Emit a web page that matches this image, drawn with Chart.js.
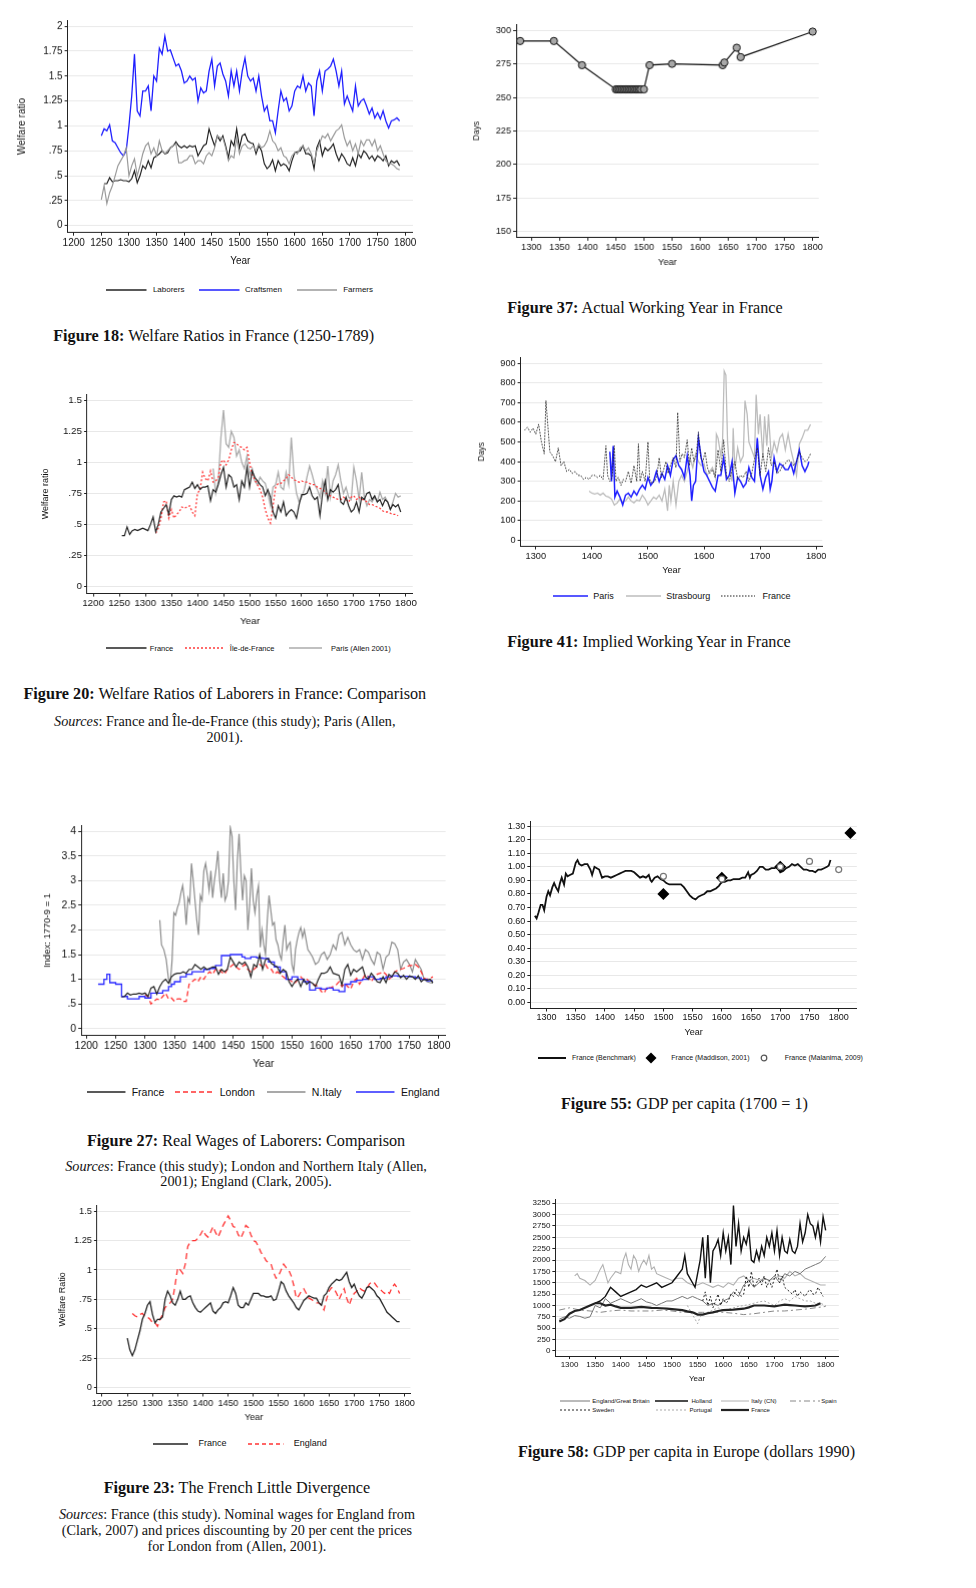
<!DOCTYPE html>
<html>
<head>
<meta charset="utf-8">
<script src="https://cdn.jsdelivr.net/npm/chart.js@4.4.1/dist/chart.umd.min.js"></script>
<style>
html, body { margin: 0; padding: 0; background: #fff; }
body { width: 976px; height: 1588px; position: relative; overflow: hidden; }
.box { position: absolute; }
.cap { position: absolute; text-align: center; font-family: "Liberation Serif", serif; color: #111; white-space: nowrap; }
.leg { position: absolute; font-family: "Liberation Sans", Arial, sans-serif; color: #111; white-space: nowrap; }
</style>
</head>
<body>
<script>
// ---- shared years and ticks ----
const yrs5 = [1250,1255,1260,1265,1270,1275,1280,1285,1290,1295,
  1300,1305,1310,1315,1320,1325,1330,1335,1340,1345,
  1350,1355,1360,1365,1370,1375,1380,1385,1390,1395,
  1400,1405,1410,1415,1420,1425,1430,1435,1440,1445,
  1450,1455,1460,1465,1470,1475,1480,1485,1490,1495,
  1500,1505,1510,1515,1520,1525,1530,1535,1540,1545,
  1550,1555,1560,1565,1570,1575,1580,1585,1590,1595,
  1600,1605,1610,1615,1620,1625,1630,1635,1640,1645,
  1650,1655,1660,1665,1670,1675,1680,1685,1690,1695,
  1700,1705,1710,1715,1720,1725,1730,1735,1740,1745,
  1750,1755,1760,1765,1770,1775,1780,1785,1790];
const yrs10 = [1280,1290,1300,1310,1320,1330,1340,1350,1360,1370,1380,1390,1400,1410,1420,1430,1440,1450,1460,1470,
  1480,1490,1500,1510,1520,1530,1540,1550,1560,1570,1580,1590,1600,1610,1620,1630,1640,1650,1660,1670,
  1680,1690,1700,1710,1720,1730,1740,1750,1760,1770,1780,1790,1800];

const xt1200 = [1200,1250,1300,1350,1400,1450,1500,1550,1600,1650,1700,1750,1800];
const xt1300 = [1300,1350,1400,1450,1500,1550,1600,1650,1700,1750,1800];
const xt100 = [1300,1400,1500,1600,1700,1800];

// ---- Figure 18: welfare ratios ----
const f18YTicks = [0,0.25,0.5,0.75,1,1.25,1.5,1.75,2];
const f18YLabels = ['0','.25','.5','.75','1','1.25','1.5','1.75','2'];
const f18Craft = [0.90,0.97,0.95,1.01,0.85,0.83,0.78,0.73,0.70,0.75,
  1.00,1.30,1.72,1.15,1.10,1.35,1.35,1.40,1.15,1.50,
  1.45,1.78,1.72,1.90,1.75,1.76,1.68,1.60,1.62,1.55,
  1.43,1.45,1.50,1.46,1.48,1.25,1.38,1.33,1.35,1.55,
  1.67,1.40,1.60,1.63,1.52,1.45,1.30,1.55,1.40,1.55,
  1.35,1.55,1.68,1.50,1.45,1.48,1.35,1.50,1.30,1.15,
  1.20,1.05,1.05,0.93,1.15,1.35,1.25,1.28,1.15,1.20,
  1.35,1.40,1.38,1.50,1.35,1.43,1.40,1.10,1.45,1.55,
  1.35,1.55,1.57,1.60,1.67,1.55,1.40,1.55,1.22,1.30,
  1.22,1.15,1.40,1.20,1.25,1.27,1.20,1.12,1.18,1.08,
  1.13,1.07,1.15,1.05,0.98,1.05,1.06,1.08,1.05];
const f18Labor = [null,0.42,0.42,0.48,0.44,0.45,0.45,0.46,0.45,0.45,
  0.44,0.47,0.55,0.43,0.50,0.60,0.57,0.65,0.58,0.68,
  0.70,0.72,0.75,0.72,0.73,0.78,0.80,0.84,0.80,0.78,
  0.80,0.78,0.80,0.79,0.80,0.70,0.75,0.80,0.82,0.97,
  0.88,0.80,0.90,0.85,0.90,0.80,0.68,0.85,0.80,0.97,
  0.78,0.90,0.92,0.85,0.83,0.82,0.72,0.80,0.75,0.62,
  0.57,0.60,0.66,0.55,0.65,0.60,0.62,0.60,0.55,0.65,
  0.73,0.74,0.75,0.80,0.72,0.72,0.70,0.57,0.78,0.85,
  0.70,0.78,0.75,0.78,0.82,0.72,0.65,0.72,0.68,0.62,
  0.60,0.68,0.60,0.72,0.68,0.75,0.72,0.67,0.70,0.65,
  0.70,0.68,0.65,0.70,0.60,0.65,0.63,0.65,0.60];
const f18Farm = [0.26,0.40,0.22,0.33,0.40,0.50,0.60,0.65,0.70,0.78,
  0.50,0.60,0.67,0.50,0.60,0.72,0.80,0.83,0.72,0.78,
  0.70,0.85,0.75,0.72,0.75,0.78,0.80,0.82,0.63,0.63,
  0.65,0.66,0.70,0.70,0.62,0.65,0.65,0.62,0.70,0.73,
  0.70,0.78,0.90,0.88,0.88,0.78,0.65,0.70,0.68,0.88,
  0.72,0.80,0.82,0.78,0.77,0.80,0.75,0.82,0.78,0.80,
  0.85,0.95,0.85,0.82,0.75,0.78,0.70,0.68,0.62,0.70,
  0.73,0.72,0.78,0.80,0.75,0.78,0.72,0.63,0.75,0.82,
  0.90,0.88,0.92,0.85,0.90,0.95,0.97,1.01,0.88,0.80,
  0.85,0.75,0.82,0.72,0.85,0.80,0.86,0.86,0.80,0.86,
  0.75,0.80,0.72,0.65,0.62,0.62,0.60,0.57,0.56];

// ---- Figure 37: actual working year ----
const f37YTicks = [150,175,200,225,250,275,300];
const f37YLabels = ['150','175','200','225','250','275','300'];
const f37Years = [1280,1340,1390,1450,1453,1456,1459,1462,1465,1468,1471,1474,1477,1480,1483,1486,1489,1492,1495,1500,1510,1550,1640,1643,1665,1672,1800];
const f37Days = [292,292,274,256,256,256,256,256,256,256,256,256,256,256,256,256,256,256,256,256,274,275,274,276,287,280,299];

// ---- Figure 20: laborers comparison ----
const f20YTicks = [0,0.25,0.5,0.75,1,1.25,1.5];
const f20YLabels = ['0','.25','.5','.75','1','1.25','1.5'];
const f20France = [null,0.41,0.41,0.48,0.42,0.45,0.46,0.45,0.46,0.47,
  0.46,0.45,0.50,0.56,0.44,0.50,0.60,0.63,0.66,0.58,
  0.70,0.73,0.72,0.73,0.72,0.78,0.79,0.80,0.84,0.79,
  0.82,0.78,0.80,0.80,0.81,0.69,0.78,0.76,0.82,0.90,
  0.96,0.80,0.90,0.88,0.80,0.82,0.70,0.85,0.80,0.96,
  0.80,0.93,0.88,0.85,0.82,0.80,0.73,0.78,0.72,0.60,
  0.55,0.65,0.60,0.68,0.57,0.60,0.62,0.60,0.55,0.66,
  0.74,0.74,0.75,0.80,0.73,0.70,0.72,0.57,0.75,0.85,
  0.70,0.78,0.76,0.78,0.82,0.68,0.66,0.72,0.65,0.60,
  0.62,0.68,0.60,0.72,0.70,0.75,0.76,0.70,0.73,0.68,
  0.70,0.65,0.70,0.68,0.62,0.66,0.64,0.66,0.60];
const f20Idf = [null,null,null,null,null,null,null,null,null,null,
  null,null,null,null,0.43,0.47,0.55,0.68,0.69,0.55,
  0.62,0.55,0.58,0.60,0.64,0.63,0.64,0.65,0.60,0.57,
  0.75,0.78,0.92,0.87,0.85,0.93,0.84,0.85,0.88,1.00,
  1.02,0.98,1.02,1.10,1.16,1.15,1.13,1.12,1.10,1.12,
  1.00,0.90,0.86,0.82,0.78,0.72,0.62,0.55,0.51,0.65,
  0.80,0.83,0.83,0.85,0.87,0.90,0.88,0.86,0.85,0.84,
  0.85,0.84,0.84,0.83,0.82,0.82,0.80,0.79,0.78,0.76,
  0.74,0.73,0.72,0.71,0.70,0.70,0.72,0.70,0.68,0.72,
  0.73,0.70,0.72,0.70,0.70,0.68,0.66,0.66,0.65,0.64,
  0.63,0.61,0.60,0.60,0.59,0.58,0.58,0.57,null];
const f20Paris = [null,null,null,null,null,null,null,null,null,null,
  null,null,null,null,null,null,null,null,null,null,
  null,null,null,null,null,null,null,null,null,null,
  null,null,null,null,null,null,0.95,0.75,0.85,1.20,
  1.42,1.15,1.12,1.25,1.20,1.05,1.10,1.00,0.95,1.05,
  0.90,0.95,0.85,0.82,0.88,0.85,0.83,0.75,0.65,0.80,
  0.82,0.92,0.80,0.78,0.92,0.82,1.20,0.90,0.75,0.68,
  0.72,0.78,0.88,0.97,0.90,0.82,0.78,0.72,0.85,0.75,
  0.97,0.72,0.85,0.90,0.98,0.85,0.75,0.80,0.72,0.70,
  0.96,0.85,0.70,0.92,0.72,0.65,0.70,0.68,0.72,0.68,
  0.76,0.70,0.72,0.68,0.62,0.68,0.75,0.72,0.73];

// ---- Figure 41: implied working year ----
const f41YTicks = [0,100,200,300,400,500,600,700,800,900];
const f41YLabels = ['0','100','200','300','400','500','600','700','800','900'];
const f41FrYears = [1280,1285,1290,1295,1300,1305,1310,1315,1318,1321,
  1325,1330,1335,1340,1345,1350,1355,1360,1365,1370,1375,1380,1385,1390,1395,1400,1405,1410,1415,1420,1425,
  1428,1432,1436,1440,1443,1447,1452,1456,1460,1465,1470,1475,1480,1483,1486,1490,1495,1500,
  1503,1507,1512,1516,1520,1524,1528,1532,1536,1540,1545,1550,1553,1557,1561,1565,1570,1574,1578,1582,
  1586,1590,1594,1598,1602,1606,1610,
  1615,1620,1625,1630,1635,1640,1645,1650,1655,1660,1665,1670,1675,1680,1685,1690,1695,1700,
  1705,1710,1715,1720,1725,1730,1735,1740,1745,1750,1755,1760,1765,1770,1775,1780,1785,1790];
const f41France = [560,575,550,570,540,590,500,440,710,600,
  450,430,400,470,380,400,350,360,340,350,330,330,310,320,310,330,330,320,330,310,480,
  330,300,320,480,300,320,280,310,300,350,290,380,300,490,300,350,300,500,
  310,290,300,330,420,320,360,400,340,380,420,370,650,400,440,420,510,380,470,400,
  430,550,420,400,450,370,340,
  360,320,460,350,510,330,300,360,400,310,330,320,350,300,340,410,470,330,
  440,350,470,380,400,340,350,380,390,410,400,380,400,450,420,400,410,440];
const f41PaYears = [1432,1435,1438,1441,1445,
  1450,1455,1460,1465,1470,1475,1480,1485,1490,1495,1500,1505,1510,1515,1520,1525,1530,1535,1540,1545,1550,1555,1560,1565,1570,1575,
  1578,1581,
  1585,1590,1595,1600,1605,1610,1615,1620,1625,1630,1635,1640,1645,1650,1655,1660,1665,1670,1675,1680,1685,1690,1695,1700,1705,1710,1715,
  1718,1721,
  1725,1730,1735,1740,1745,1750,1755,1760,1765,1770,1775,1780,1785,1787];
const f41Paris = [450,300,480,220,250,
  220,180,230,240,220,250,230,260,280,260,320,280,300,350,300,340,310,380,330,410,430,380,360,320,430,330,
  200,280,
  300,520,420,350,330,300,270,250,330,330,420,310,330,400,240,320,300,270,290,370,320,300,520,330,260,320,350,
  260,300,
  420,350,390,380,360,360,390,340,400,460,380,350,380,400];
const f41StYears = [1395,1400,1405,1410,1415,1420,1425,1430,1435,1440,1445,1450,1455,1460,1465,1470,1475,1480,1485,1490,1495,1500,1505,1510,1515,1520,1525,1530,
  1535,1538,1541,1545,1550,1555,1560,1565,1570,1575,1580,1585,1590,1595,1600,1605,1610,1615,1620,1622,1625,1630,
  1633,1636,1639,1642,1645,1650,1652,1655,1660,1665,1670,1673,1677,1680,1685,1690,1693,1697,1700,1705,
  1708,1712,1715,1720,1725,1730,1735,1740,1745,1750,1755,1760,1765,1770,1775,1780,1785,1790];
const f41Stras = [250,240,235,240,230,240,225,220,210,180,190,210,195,200,220,200,190,205,200,230,210,180,200,220,210,230,200,260,
  150,280,200,300,180,300,330,300,350,420,370,440,400,380,390,330,350,370,320,540,520,430,
  500,860,840,500,380,300,570,360,470,400,430,710,640,500,460,420,740,540,640,420,
  630,480,640,420,500,450,520,540,460,540,460,400,330,490,520,560,560,590];

// ---- Figure 27: real wages comparison ----
const f27YTicks = [0,0.5,1,1.5,2,2.5,3,3.5,4];
const f27YLabels = ['0','.5','1','1.5','2','2.5','3','3.5','4'];
const f27France = [null,null,0.64,0.65,0.72,0.68,0.70,0.70,0.72,0.70,
  0.72,0.65,0.82,0.85,0.70,0.85,0.95,1.00,0.92,1.05,
  1.10,1.12,1.12,1.15,1.12,1.20,1.20,1.30,1.25,1.20,
  1.25,1.20,1.22,1.25,1.25,1.10,1.20,1.15,1.20,1.45,
  1.35,1.25,1.35,1.30,1.35,1.25,1.05,1.30,1.25,1.50,
  1.20,1.40,1.42,1.32,1.28,1.25,1.12,1.20,1.15,0.95,
  0.85,0.95,1.00,0.85,1.00,0.90,0.95,0.92,0.85,1.00,
  1.12,1.12,1.15,1.25,1.12,1.10,1.08,0.88,1.20,1.30,
  1.08,1.20,1.15,1.20,1.25,1.05,1.00,1.12,1.05,0.95,
  0.93,1.05,0.93,1.10,1.05,1.15,1.12,1.03,1.08,1.00,
  1.07,1.05,1.00,1.07,0.95,1.00,0.98,1.00,0.93];
const f27London = [null,null,null,null,null,null,null,null,null,null,
  0.68,0.65,0.50,0.55,0.60,0.58,0.65,0.72,0.60,0.62,
  0.55,0.60,0.60,0.55,0.55,0.90,0.95,1.00,0.95,1.05,
  1.00,1.10,1.15,1.10,1.20,1.20,1.15,1.10,1.20,1.25,
  1.30,1.25,1.20,1.25,1.30,1.20,1.15,1.20,1.25,1.30,
  1.25,1.30,1.20,1.20,1.10,1.15,1.10,1.05,1.00,1.00,
  0.95,0.92,1.00,1.05,0.98,1.00,0.95,0.90,0.88,0.85,
  0.75,0.72,0.85,0.82,0.85,0.88,0.95,0.85,0.92,0.85,
  0.80,0.95,1.02,0.90,1.00,1.10,1.05,0.95,1.05,1.10,
  1.12,1.15,1.10,1.00,1.05,1.15,1.18,1.20,1.22,1.25,
  1.28,1.28,1.30,1.25,1.15,1.02,1.00,1.02,1.05];
const f27EngYears = [1220,1230,1235,1240,1250,1260,1270,1290,1300,1310,1330,1340,1345,1350,1360,1370,1380,1400,1410,1420,
  1430,1445,1465,1470,1480,1490,1500,1510,1520,1530,1540,1550,1560,1570,1580,1590,1600,1610,1620,1630,
  1640,1650,1660,1670,1680,1690,1700,1710,1720,1730,1750,1760,1770,1780,1790];
const f27England = [0.90,0.90,1.00,1.10,0.93,0.90,0.65,0.60,0.65,0.62,0.72,0.77,0.85,0.90,0.95,1.05,1.10,1.15,1.20,1.22,
  1.28,1.48,1.50,1.45,1.42,1.45,1.43,1.42,1.35,1.25,1.15,1.00,1.05,1.00,0.95,0.78,0.82,0.80,0.82,0.78,
  0.75,0.90,0.95,0.98,1.00,1.05,1.00,1.02,1.05,1.07,1.06,1.05,1.03,1.00,0.97];
const f27ItYears = [1325,1328,1332,1336,1340,1343,1346,1349,1352,1355,1358,1361,1364,1367,1370,1373,1376,1379,1382,1385,
  1388,1391,1394,1397,1400,1403,1406,1409,1412,1415,1418,1421,1424,1427,1430,1433,1436,1439,1442,1445,
  1448,1451,1454,1457,1460,1463,1466,1469,1472,1475,1478,1481,1484,1487,1490,1493,1496,1499,1502,1505,
  1508,1511,1514,1517,1520,1523,1526,1529,1532,1535,1538,1541,1544,1547,1550,1553,1556,1559,1562,1565,
  1568,1571,1574,1577,1580,
  1585,1590,1595,1600,1605,1610,1615,1620,1625,1630,1635,1640,1645,1650,1655,1660,1665,1670,1675,1680,
  1685,1690,1695,1700,1705,1710,1715,1720,1725,1730,1735,1740,1745,1750,1755,1760,1765,1770,1775,1780,1785,1790];
const f27NItaly = [2.2,1.7,1.6,1.4,1.0,0.92,1.4,2.35,2.3,2.45,2.55,2.75,2.9,2.6,2.1,2.65,2.55,3.35,3.0,2.6,
  2.2,1.9,2.7,2.6,3.2,3.35,3.1,2.8,3.2,2.65,3.0,3.25,3.6,3.0,2.65,3.15,2.6,2.7,3.0,4.08,
  3.9,3.0,2.4,3.4,3.95,3.2,2.6,3.1,3.0,2.0,2.5,3.25,2.6,2.35,2.7,2.9,1.65,2.0,1.7,1.5,
  2.2,2.7,2.4,2.1,2.15,1.8,1.7,1.5,1.4,1.8,2.1,1.6,1.7,1.75,1.3,1.15,1.6,1.8,1.95,2.05,
  1.85,2.0,1.8,1.6,1.55,
  1.45,1.3,1.35,1.5,1.55,1.4,1.5,1.7,1.6,1.9,1.95,1.7,1.85,1.7,1.6,1.55,1.6,1.4,1.6,1.55,
  1.4,1.3,1.55,1.5,1.2,1.45,1.5,1.75,1.72,1.6,1.2,1.35,1.4,1.3,1.15,1.4,1.3,1.2,1.0,0.95,0.93,0.92];

// ---- Figure 55: GDP per capita (1700 = 1) ----
const f55YTicks = [0,0.1,0.2,0.3,0.4,0.5,0.6,0.7,0.8,0.9,1.0,1.1,1.2,1.3];
const f55YLabels = ['0.00','0.10','0.20','0.30','0.40','0.50','0.60','0.70','0.80','0.90','1.00','1.10','1.20','1.30'];
const f55Years = [1280,1283,1286,1290,1293,1296,1300,1303,1306,1310,1313,1316,1320,1323,1326,1330,1333,1336,1340,1345,1350,1353,1356,1360,1365,1370,1375,1378,1382,1386,1390,1395,
  1400,1405,1410,1415,1420,1425,1430,1435,1440,1445,1450,1455,1460,1465,1470,1475,1478,1480,
  1485,1490,1495,1500,1505,1510,1515,1520,1525,1530,1535,1540,1545,1550,1555,1560,1565,1570,1575,1580,1585,1590,1595,1600,1605,1610,1615,1620,1625,1630,1635,1640,1645,1648,
  1650,1655,1660,1665,1670,1675,1680,1685,1690,1695,1700,1705,1710,1715,1720,1725,1730,1735,1740,1745,1750,1755,1760,1765,1770,1775,1780,1783,1786];
const f55Bench = [0.64,0.62,0.66,0.72,0.72,0.68,0.78,0.82,0.79,0.85,0.88,0.85,0.82,0.88,0.92,0.87,0.95,0.93,0.94,0.95,1.03,1.05,1.02,1.01,1.02,1.02,0.98,0.94,1.00,0.99,0.98,0.92,
  0.93,0.93,0.92,0.93,0.94,0.95,0.96,0.97,0.97,0.97,0.96,0.94,0.92,0.93,0.92,0.94,0.90,0.89,
  0.92,0.93,0.91,0.90,0.88,0.87,0.87,0.87,0.87,0.87,0.85,0.82,0.79,0.77,0.76,0.78,0.79,0.80,0.82,0.82,0.83,0.84,0.86,0.89,0.89,0.90,0.90,0.91,0.91,0.91,0.92,0.92,0.96,0.92,
  0.94,0.95,0.97,1.00,1.00,0.98,0.98,0.99,0.99,1.00,0.96,0.97,0.99,1.00,1.02,1.01,1.02,1.00,0.98,0.98,0.97,0.97,0.96,0.98,0.98,0.99,1.00,1.01,1.05];
const f55MadYears = [1500,1600,1700,1820];
const f55Maddison = [0.80,0.92,1.00,1.25];
const f55MalYears = [1500,1600,1700,1750,1800];
const f55Malanima = [0.93,0.91,1.00,1.04,0.98];

// ---- Figure 23: French little divergence ----
const f23YTicks = [0,0.25,0.5,0.75,1,1.25,1.5];
const f23YLabels = ['0','.25','.5','.75','1','1.25','1.5'];
const f23France = [0.42,0.32,0.27,0.32,0.40,0.48,0.58,0.63,0.70,0.73,
  0.62,0.55,0.58,0.58,0.60,0.75,0.82,0.78,0.72,0.70,
  0.75,0.82,0.75,0.75,0.77,0.78,0.72,0.68,0.65,0.64,
  0.66,0.68,0.70,0.72,0.65,0.63,0.66,0.68,0.72,0.73,
  0.72,0.78,0.85,0.80,0.70,0.68,0.68,0.72,0.70,0.75,
  0.80,0.80,0.80,0.78,0.78,0.77,0.77,0.78,0.74,0.75,
  0.82,0.90,0.88,0.82,0.78,0.75,0.72,0.68,0.66,0.70,
  0.74,0.76,0.78,0.77,0.76,0.76,0.72,0.70,0.78,0.80,
  0.85,0.88,0.90,0.92,0.91,0.92,0.95,0.98,0.90,0.85,
  0.88,0.82,0.78,0.76,0.80,0.85,0.86,0.84,0.82,0.78,
  0.76,0.72,0.68,0.64,0.62,0.60,0.58,0.56,0.56];
const f23England = [null,null,0.63,0.61,0.60,0.62,0.63,0.60,0.60,0.58,
  0.55,0.55,0.52,0.58,0.62,0.68,0.70,0.72,0.75,0.88,
  1.02,1.00,0.97,1.05,1.20,1.24,1.25,1.25,1.27,1.30,
  1.34,1.30,1.28,1.32,1.37,1.32,1.28,1.33,1.38,1.42,
  1.46,1.42,1.37,1.36,1.30,1.27,1.32,1.38,1.36,1.30,
  1.25,1.24,1.20,1.15,1.12,1.08,1.06,1.05,0.98,0.93,
  0.95,1.00,1.05,1.02,1.00,0.95,0.87,0.76,0.78,0.82,
  0.84,0.80,0.76,0.75,0.73,0.72,0.72,0.70,0.66,0.75,
  0.82,0.85,0.84,0.80,0.75,0.80,0.84,0.76,0.70,0.76,
  0.80,0.82,0.85,0.83,0.82,0.84,0.88,0.90,0.89,0.86,
  0.84,0.82,0.80,0.82,0.80,0.85,0.88,0.85,0.80];

// ---- Figure 58: GDP per capita in Europe ----
const f58YTicks = [0,250,500,750,1000,1250,1500,1750,2000,2250,2500,2750,3000,3250];
const f58YLabels = ['0','250','500','750','1000','1250','1500','1750','2000','2250','2500','2750','3000','3250'];
const f58England = [700,750,720,780,760,720,750,1000,950,1150,1050,1100,1150,1100,1050,1100,1150,1080,1050,1000,
  1050,1100,1100,1150,1200,1150,1200,1150,1100,1000,1050,1000,1100,1150,1300,1200,1450,1550,1400,1500,
  1600,1550,1650,1500,1700,1650,1750,1700,1800,1850,1900,1950,2080];
const f58France = [650,700,820,880,900,950,1000,1050,1050,1000,1020,980,950,950,950,960,970,960,950,945,
  940,930,920,910,900,870,850,800,800,830,850,880,900,905,910,920,930,960,1000,1000,
  1000,990,980,1000,1020,1010,1000,990,980,990,1000,1050,null];
const f58HolYears = [1350,1360,1370,1380,1390,1400,1410,1420,1430,1440,1450,1460,1470,1480,1490,1500,1510,1520,1525,1530,1540,1545,
  1550,1555,1560,1565,1570,1575,1580,1585,1590,1595,1600,1605,1610,1615,1620,1625,1630,1635,1640,1645,
  1650,1655,1660,1665,1670,1675,1680,1685,1690,1695,1700,1705,1710,1715,1720,1725,1730,1735,1740,1745,
  1750,1755,1760,1765,1770,1775,1780,1785,1790,1795,1800];
const f58Holland = [1050,1100,1200,1400,1300,1200,1250,1300,1350,1450,1400,1450,1500,1400,1450,1500,1650,1800,2100,1700,1500,1400,
  1700,2000,2500,1600,2550,1500,2200,2300,2450,2100,2600,2200,2500,1900,3200,2300,2800,2200,2500,2350,
  2650,2000,1950,2200,2000,2300,2100,2500,2300,2600,2200,2650,2100,2500,2200,2150,2450,2200,2150,2300,
  2800,2400,2600,3000,2800,2750,2500,2800,2400,2950,2650];
const f58ItYears = [1310,1315,1320,1330,1340,1350,1360,1365,1370,1375,1380,1390,1400,1405,1410,1415,1420,1425,1430,1435,
  1440,1445,1450,1455,1460,1465,1470,
  1480,1490,1500,1510,1520,1530,1540,1550,1560,1570,1580,1590,1600,1610,1620,1630,1640,1650,1660,1670,
  1680,1690,1700,1710,1720,1730,1740,1750,1760,1770,1780,1790,1800];
const f58Italy = [1650,1700,1600,1550,1450,1550,1800,1900,1700,1500,1600,1750,1700,2000,2150,1900,1800,2100,2000,1750,
  1900,2000,1900,2100,1800,1850,1700,
  1650,1600,1550,1600,1600,1500,1450,1450,1500,1450,1400,1450,1400,1500,1450,1600,1650,1550,1600,1550,
  1600,1550,1600,1650,1600,1750,1650,1700,1600,1550,1500,1450,1450];
const f58SpYears = [1280,1300,1320,1340,1360,1380,1400,1420,1440,1460,1480,1500,1520,1540,1560,1580,1600,1620,1640,1660,
  1680,1700,1720,1740,1760,1780,1800];
const f58Spain = [900,950,900,880,850,880,900,880,880,880,900,880,850,850,850,850,850,830,800,820,
  850,880,880,900,920,950,980];
const f58SwYears = [1560,1565,1570,1575,1580,1585,1590,1595,1600,1605,1610,1615,1620,1625,1630,1635,1640,1645,1650,1655,
  1660,1665,1670,1675,1680,1685,1690,1695,1700,1705,1710,1715,1720,1725,1730,1735,1740,1745,1750,1755,
  1760,1765,1770,1775,1780,1785,1790,1795];
const f58Sweden = [1100,1300,1000,1200,950,1100,1250,1000,1150,1050,1100,1250,1200,1350,1300,1200,1250,1650,1400,1750,
  1400,1500,1600,1450,1650,1400,1550,1400,1600,1800,1500,1650,1400,1350,1300,1250,1350,1200,1300,1250,
  1200,1300,1350,1250,1250,1400,1300,1200];
const f58PtYears = [1530,1540,1545,1550,1555,1560,1570,1580,1590,1600,1610,1620,1630,1640,1650,1660,1670,1680,1690,1700,
  1710,1720,1730,1740,1750,1760,1770,1780,1790,1800];
const f58Portugal = [1000,800,700,600,750,800,850,900,950,900,920,950,980,1000,1020,1050,1080,1100,1050,1000,
  1100,1150,1100,1200,1150,1100,1100,1050,1050,1000];

// ---- helpers ----
const K = 1.0125;
const P = v => v * K;
const NS = 'http://www.w3.org/2000/svg';
Chart.defaults.font.family = '"Liberation Sans", Arial, sans-serif';
Chart.defaults.color = '#111';

function pts(xs, ys) {
  const out = [];
  xs.forEach((x, i) => { if (ys[i] !== null && ys[i] !== undefined) out.push({ x: x, y: ys[i] }); });
  return out;
}

function line(label, xs, ys, color, width, dash, extra) {
  return Object.assign({
    label: label, data: pts(xs, ys), borderColor: color, backgroundColor: color,
    borderWidth: width, borderDash: dash || [], pointRadius: 0, tension: 0, fill: false
  }, extra || {});
}

function makeChart(c) {
  const PT = 12, PR = 14;
  const div = document.createElement('div');
  div.className = 'box';
  div.style.left = P(c.x0 - c.yw) + 'px';
  div.style.top = P(c.y0 - PT) + 'px';
  div.style.width = P(c.x1 - c.x0 + c.yw + PR) + 'px';
  div.style.height = P(c.y1 - c.y0 + PT + c.xh) + 'px';
  const cv = document.createElement('canvas');
  div.appendChild(cv);
  document.body.appendChild(div);
  new Chart(cv, {
    type: 'line',
    data: { datasets: c.datasets },
    options: {
      responsive: true,
      maintainAspectRatio: false,
      animation: false,
      layout: { autoPadding: false, padding: { top: P(PT), right: P(PR), left: 0, bottom: 0 } },
      plugins: { legend: { display: false }, tooltip: { enabled: false } },
      scales: {
        x: {
          type: 'linear', min: c.xmin, max: c.xmax,
          afterBuildTicks: s => { s.ticks = c.xticks.map(v => ({ value: v })); },
          afterFit: s => { s.height = P(c.xh); },
          grid: { drawOnChartArea: false, drawTicks: true, tickLength: 3, tickColor: '#222' },
          border: { display: true, color: '#222', width: 1 },
          ticks: { font: { size: c.fs }, color: '#111', padding: 1, maxRotation: 0, autoSkip: false, callback: v => String(v) },
          title: { display: true, text: 'Year', font: { size: c.fs }, color: '#111', padding: { top: 0, bottom: 2 } }
        },
        y: {
          min: c.ymin, max: c.ymax,
          afterBuildTicks: s => { s.ticks = c.yticks.map(v => ({ value: v })); },
          afterFit: s => { s.width = P(c.yw); },
          grid: { color: '#e8e8e8', drawTicks: true, tickLength: 3, tickColor: '#222' },
          border: { display: true, color: '#222', width: 1 },
          ticks: { font: { size: c.fs }, color: '#111', padding: 2, autoSkip: false, callback: (v, i) => c.ylabels[i] },
          title: c.ytitle
            ? { display: true, text: c.ytitle, font: { size: c.tfs }, color: '#111', padding: { top: 0, bottom: 0 } }
            : { display: false }
        }
      }
    }
  });
}

function addLegend(y, items, fs) {
  items.forEach(it => {
    if (it.k) {
      const x1 = P(it.k[0]), x2 = P(it.k[1]);
      const s = document.createElementNS(NS, 'svg');
      s.setAttribute('width', x2 - x1);
      s.setAttribute('height', 8);
      s.style.cssText = 'position:absolute;left:' + x1 + 'px;top:' + (P(y) - 4) + 'px';
      const l = document.createElementNS(NS, 'line');
      l.setAttribute('x1', 0); l.setAttribute('y1', 4);
      l.setAttribute('x2', x2 - x1); l.setAttribute('y2', 4);
      l.setAttribute('stroke', it.c);
      l.setAttribute('stroke-width', it.w || 1.2);
      if (it.d) l.setAttribute('stroke-dasharray', it.d);
      s.appendChild(l);
      document.body.appendChild(s);
    }
    if (it.m) {
      const s = document.createElementNS(NS, 'svg');
      s.setAttribute('width', 12); s.setAttribute('height', 12);
      s.style.cssText = 'position:absolute;left:' + (P(it.cx) - 6) + 'px;top:' + (P(y) - 6) + 'px';
      let e;
      if (it.m === 'diamond') {
        e = document.createElementNS(NS, 'polygon');
        e.setAttribute('points', '6,0.5 11.5,6 6,11.5 0.5,6');
        e.setAttribute('fill', '#000');
      } else {
        e = document.createElementNS(NS, 'circle');
        e.setAttribute('cx', 6); e.setAttribute('cy', 6); e.setAttribute('r', 2.8);
        e.setAttribute('fill', '#fff'); e.setAttribute('stroke', '#555'); e.setAttribute('stroke-width', 1.2);
      }
      s.appendChild(e);
      document.body.appendChild(s);
    }
    const t = document.createElement('div');
    t.className = 'leg';
    t.textContent = it.t;
    t.style.left = P(it.x) + 'px';
    t.style.top = (P(y) - fs * 0.6) + 'px';
    t.style.fontSize = fs + 'px';
    t.style.lineHeight = (fs * 1.2) + 'px';
    document.body.appendChild(t);
  });
}

function cap(cx, y, html, fs, lh) {
  const d = document.createElement('div');
  d.className = 'cap';
  d.innerHTML = html;
  d.style.left = (P(cx) - 300) + 'px';
  d.style.width = '600px';
  d.style.top = (P(y) - lh / 2) + 'px';
  d.style.fontSize = fs + 'px';
  d.style.lineHeight = lh + 'px';
  document.body.appendChild(d);
}

const CAP = 16.2, SRC = 14.2;

// ---- Figure 18 ----
makeChart({
  x0: 67, x1: 408, y0: 20, y1: 229, yw: 51, xh: 35.7, fs: 10, ytitle: 'Welfare ratio', tfs: 10,
  xmin: 1189, xmax: 1814, ymin: -0.071, ymax: 2.06,
  xticks: xt1200, yticks: f18YTicks, ylabels: f18YLabels,
  datasets: [
    line('Farmers', yrs5, f18Farm, '#9a9a9a', 1.2),
    line('Laborers', yrs5, f18Labor, '#222', 1.2),
    line('Craftsmen', yrs5, f18Craft, '#1f1fff', 1.3)
  ]
});
addLegend(286, [
  { k: [105, 145], c: '#222', w: 1.5, t: 'Laborers', x: 151 },
  { k: [197, 237], c: '#1f1fff', w: 1.5, t: 'Craftsmen', x: 242 },
  { k: [293, 333], c: '#9a9a9a', w: 1.5, t: 'Farmers', x: 339 }
], 8);
cap(211, 332, '<b>Figure 18:</b> Welfare Ratios in France (1250-1789)', CAP, 18);

// ---- Figure 37 ----
makeChart({
  x0: 510, x1: 808, y0: 24, y1: 234, yw: 43.5, xh: 31.4, fs: 9.2, ytitle: 'Days', tfs: 8.5,
  xmin: 1272.9, xmax: 1810.8, ymin: 145.5, ymax: 304.5,
  xticks: xt1300, yticks: f37YTicks, ylabels: f37YLabels,
  datasets: [
    line('Days', f37Years, f37Days, '#111', 1.2, [], {
      pointRadius: 3.6, pointBackgroundColor: '#a8a8a8', pointBorderColor: '#111', pointBorderWidth: 1
    })
  ]
});
cap(637, 304, '<b>Figure 37:</b> Actual Working Year in France', CAP, 18);

// ---- Figure 20 ----
makeChart({
  x0: 86, x1: 406.7, y0: 389, y1: 586, yw: 46.4, xh: 34.7, fs: 9.8, ytitle: 'Welfare ratio', tfs: 9,
  xmin: 1188.3, xmax: 1813, ymin: -0.057, ymax: 1.549,
  xticks: xt1200, yticks: f20YTicks, ylabels: f20YLabels,
  datasets: [
    line('France', yrs5, f20France, '#222', 1.2),
    line('Île-de-France', yrs5, f20Idf, '#ff3b3b', 1.3, [2, 2]),
    line('Paris (Allen 2001)', yrs5, f20Paris, '#ababab', 1.3)
  ]
});
addLegend(640, [
  { k: [105, 145], c: '#222', w: 1.5, t: 'France', x: 148 },
  { k: [183, 222], c: '#ff3b3b', w: 1.5, d: '2,2', t: 'Île-de-France', x: 227 },
  { k: [285, 318], c: '#ababab', w: 1.5, t: 'Paris (Allen 2001)', x: 327 }
], 7.5);
cap(222, 685, '<b>Figure 20:</b> Welfare Ratios of Laborers in France: Comparison', CAP, 18);
cap(222, 712, '<i>Sources</i>: France and Île-de-France (this study); Paris (Allen,<br>2001).', SRC, 16.2);

// ---- Figure 41 ----
makeChart({
  x0: 514, x1: 812, y0: 353, y1: 539, yw: 43.1, xh: 31.4, fs: 9.2, ytitle: 'Days', tfs: 8.5,
  xmin: 1272.9, xmax: 1811, ymin: -31, ymax: 931,
  xticks: xt100, yticks: f41YTicks, ylabels: f41YLabels,
  datasets: [
    line('France', f41FrYears, f41France, '#222', 1, [1.5, 1.5]),
    line('Paris', f41PaYears, f41Paris, '#2020ff', 1.5),
    line('Strasbourg', f41StYears, f41Stras, '#bdbdbd', 1.3)
  ]
});
addLegend(589, [
  { k: [546, 581], c: '#2020ff', w: 1.6, t: 'Paris', x: 586 },
  { k: [618, 653], c: '#bdbdbd', w: 1.6, t: 'Strasbourg', x: 658 },
  { k: [712, 746], c: '#222', w: 1.2, d: '1.5,1.5', t: 'France', x: 753 }
], 9);
cap(641, 634, '<b>Figure 41:</b> Implied Working Year in France', CAP, 18);

// ---- Figure 27 ----
makeChart({
  x0: 80, x1: 439, y0: 815, y1: 1022, yw: 38.7, xh: 36.3, fs: 10.5, ytitle: 'Index: 1770-9 = 1', tfs: 9.5,
  xmin: 1191.4, xmax: 1811.6, ymin: -0.144, ymax: 4.124,
  xticks: xt1200, yticks: f27YTicks, ylabels: f27YLabels,
  datasets: [
    line('France', yrs5, f27France, '#222', 1.2),
    line('England', f27EngYears, f27England, '#2a2aff', 1.3, [], { stepped: 'after' }),
    line('London', yrs5, f27London, '#ff3333', 1.3, [5, 3]),
    line('N.Italy', f27ItYears, f27NItaly, '#8c8c8c', 1.2)
  ]
});
addLegend(1079, [
  { k: [86, 124], c: '#222', w: 1.6, t: 'France', x: 130 },
  { k: [173, 211], c: '#ff3333', w: 1.6, d: '5,3', t: 'London', x: 217 },
  { k: [264, 302], c: '#8c8c8c', w: 1.6, t: 'N.Italy', x: 308 },
  { k: [352, 390], c: '#2a2aff', w: 1.6, t: 'England', x: 396 }
], 10.5);
cap(243, 1127, '<b>Figure 27:</b> Real Wages of Laborers: Comparison', CAP, 18);
cap(243, 1152, '<i>Sources</i>: France (this study); London and Northern Italy (Allen,<br>2001); England (Clark, 2005).', SRC, 15.5);

// ---- Figure 55 ----
makeChart({
  x0: 524, x1: 846.5, y0: 811, y1: 996, yw: 28, xh: 31.4, fs: 9, 
  xmin: 1272.3, xmax: 1831, ymin: -0.045, ymax: 1.337,
  xticks: xt1300, yticks: f55YTicks, ylabels: f55YLabels,
  datasets: [
    line('France (Malanima, 2009)', f55MalYears, f55Malanima, '#666', 0, [], {
      showLine: false, pointRadius: 3, pointStyle: 'circle',
      pointBackgroundColor: '#fff', pointBorderColor: '#777', pointBorderWidth: 1.2
    }),
    line('France (Maddison, 2001)', f55MadYears, f55Maddison, '#000', 0, [], {
      showLine: false, pointRadius: 6, pointStyle: 'rectRot',
      pointBackgroundColor: '#000', pointBorderColor: '#000', pointBorderWidth: 0
    }),
    line('France (Benchmark)', f55Years, f55Bench, '#111', 1.8)
  ]
});
addLegend(1045, [
  { k: [531, 559], c: '#111', w: 2, t: 'France (Benchmark)', x: 565 },
  { m: 'diamond', cx: 643, t: 'France (Maddison, 2001)', x: 663 },
  { m: 'circle', cx: 755, t: 'France (Malanima, 2009)', x: 775 }
], 7);
cap(676, 1090, '<b>Figure 55:</b> GDP per capita (1700 = 1)', CAP, 18);

// ---- Figure 23 ----
makeChart({
  x0: 96, x1: 404.7, y0: 1190, y1: 1376, yw: 39.4, xh: 31.4, fs: 9.2, ytitle: 'Welfare Ratio', tfs: 9,
  xmin: 1189.9, xmax: 1811.5, ymin: -0.052, ymax: 1.552,
  xticks: xt1200, yticks: f23YTicks, ylabels: f23YLabels,
  datasets: [
    line('France', yrs5, f23France, '#222', 1.3),
    line('England', yrs5, f23England, '#ff3333', 1.3, [6, 4])
  ]
});
addLegend(1426, [
  { k: [151, 186], c: '#222', w: 1.4, t: 'France', x: 196 },
  { k: [245, 280], c: '#ff3333', w: 1.4, d: '4,3', t: 'England', x: 290 }
], 9);
cap(234, 1470, '<b>Figure 23:</b> The French Little Divergence', CAP, 18);
cap(234, 1495, '<i>Sources</i>: France (this study). Nominal wages for England from<br>(Clark, 2007) and prices discounting by 20 per cent the prices<br>for London from (Allen, 2001).', SRC, 16);

// ---- Figure 58 ----
makeChart({
  x0: 548, x1: 828, y0: 1184, y1: 1339, yw: 28, xh: 28.8, fs: 8,
  xmin: 1272.3, xmax: 1825.7, ymin: -111, ymax: 3339,
  xticks: xt1300, yticks: f58YTicks, ylabels: f58YLabels,
  datasets: [
    line('France', yrs10, f58France, '#222', 2.2),
    line('Holland', f58HolYears, f58Holland, '#111', 1.4),
    line('Sweden', f58SwYears, f58Sweden, '#222', 1, [2, 2]),
    line('England/Great Britain', yrs10, f58England, '#777', 1),
    line('Portugal', f58PtYears, f58Portugal, '#aaa', 1, [2, 2]),
    line('Spain', f58SpYears, f58Spain, '#888', 1, [6, 3, 2, 3]),
    line('Italy (CN)', f58ItYears, f58Italy, '#b0b0b0', 1.1)
  ]
});
addLegend(1384, [
  { k: [553, 583], c: '#777', w: 1, t: 'England/Great Britain', x: 585 },
  { k: [647, 680], c: '#111', w: 1.4, t: 'Holland', x: 683 },
  { k: [712, 740], c: '#b0b0b0', w: 1, t: 'Italy (CN)', x: 742 },
  { k: [780, 810], c: '#888', w: 1, d: '6,3,2,3', t: 'Spain', x: 811 }
], 6);
addLegend(1393, [
  { k: [553, 583], c: '#222', w: 1, d: '2,2', t: 'Sweden', x: 585 },
  { k: [648, 680], c: '#aaa', w: 1, d: '2,2', t: 'Portugal', x: 681 },
  { k: [712, 740], c: '#222', w: 2.2, t: 'France', x: 742 }
], 6);
cap(678, 1434, '<b>Figure 58:</b> GDP per capita in Europe (dollars 1990)', CAP, 18);
</script>
</body>
</html>
